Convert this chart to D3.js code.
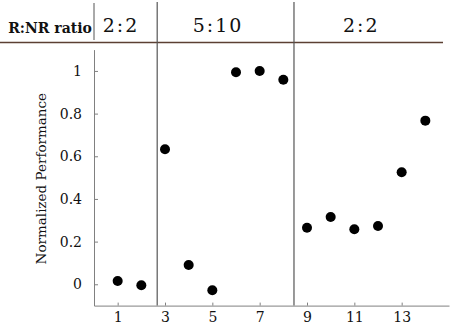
<!DOCTYPE html>
<html>
<head>
<meta charset="utf-8">
<script src="https://cdn.jsdelivr.net/npm/d3@7"></script>
<style>
  body { margin: 0; background: #fff; }
  svg text { font-family: "DejaVu Serif", serif; fill: #111; }
</style>
</head>
<body>
<div id="graphic"></div>
<script>
// data
const trials = [1, 2, 3, 4, 5, 6, 7, 8, 9, 10, 11, 12, 13, 14];
const performance = [0.015, -0.005, 0.633, 0.09, -0.028, 0.994, 1.0, 0.959, 0.265, 0.315, 0.258, 0.273, 0.525, 0.767];
const xTicks = [1, 3, 5, 7, 9, 11, 13];
const yTicks = [0, 0.2, 0.4, 0.6, 0.8, 1];
const boundaries = [2.67, 8.45];
const ratioLabels = ["2:2", "5:10", "2:2"];
const ratioAt = [1.1, 5.2, 11.25];

const width = 454, height = 326;
const margin = {top: 49.6, right: 5, bottom: 20.4, left: 94};

const svg = d3.select("#graphic")
    .append("svg")
    .attr("width", width)
    .attr("height", height);

const x = d3.scaleLinear().domain([0, 15]).range([margin.left, width - margin.right]);
const y = d3.scaleLinear().domain([-0.1, 1.1]).range([height - margin.bottom, margin.top]);

// x axis, ticks pointing inward
const xAxis = svg.append("g")
    .attr("transform", "translate(0," + y(-0.1) + ")")
    .call(d3.axisBottom(x).tickValues(xTicks).tickSizeInner(-3).tickSizeOuter(0).tickPadding(6));
xAxis.select(".domain").attr("stroke", "#808080");
xAxis.selectAll(".tick line").attr("stroke", "#808080");
xAxis.selectAll("text").attr("font-size", 14).attr("fill", "#111");

// y axis
const yAxis = svg.append("g")
    .attr("transform", "translate(" + x(0) + ",0)")
    .call(d3.axisLeft(y).tickValues(yTicks).tickSizeInner(-4).tickSizeOuter(0).tickPadding(12)
        .tickFormat(d => d === 0 || d === 1 ? d3.format("d")(d) : d3.format(".1f")(d)));
yAxis.select(".domain").attr("stroke", "#808080");
yAxis.selectAll(".tick line").attr("stroke", "#808080");
yAxis.selectAll("text").attr("font-size", 14).attr("fill", "#111");

svg.append("text")
    .attr("transform", "translate(46," + y(0.495) + ") rotate(-90)")
    .attr("text-anchor", "middle")
    .attr("font-size", 13.5)
    .text("Normalized Performance");

// header row
svg.append("line")
    .attr("x1", 0).attr("x2", 443)
    .attr("y1", 42.5).attr("y2", 42.5)
    .attr("stroke", "#5c4033").attr("stroke-width", 1.3);

svg.append("line")
    .attr("x1", x(0)).attr("x2", x(0))
    .attr("y1", 3).attr("y2", 40)
    .attr("stroke", "#555");

svg.append("text")
    .attr("x", 50).attr("y", 33)
    .attr("text-anchor", "middle")
    .attr("font-size", 14)
    .attr("font-weight", "bold")
    .text("R:NR ratio");

// separators between blocks
svg.selectAll(".sep")
    .data(boundaries)
    .join("line")
    .attr("class", "sep")
    .attr("x1", d => x(d)).attr("x2", d => x(d))
    .attr("y1", 2).attr("y2", y(-0.1))
    .attr("stroke", "#555").attr("stroke-width", 1.2);

svg.selectAll(".ratio")
    .data(ratioLabels)
    .join("text")
    .attr("class", "ratio")
    .attr("x", (d, i) => x(ratioAt[i]) + 1)
    .attr("y", 32)
    .attr("text-anchor", "middle")
    .attr("font-size", 19)
    .attr("letter-spacing", 2)
    .text(d => d);

// points
svg.selectAll(".dot")
    .data(trials)
    .join("circle")
    .attr("class", "dot")
    .attr("cx", d => x(d))
    .attr("cy", (d, i) => y(performance[i]))
    .attr("r", 5)
    .attr("fill", "#000");
</script>
</body>
</html>
